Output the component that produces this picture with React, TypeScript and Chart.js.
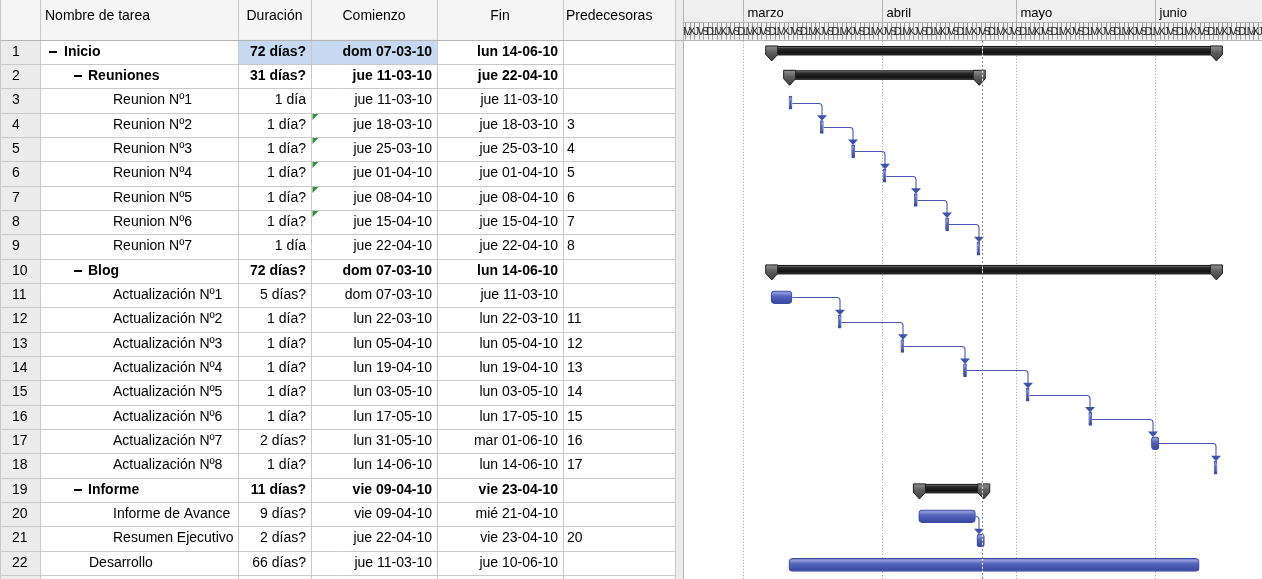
import React, { useEffect, useRef } from "react";
import { Chart, registerables } from "chart.js";

Chart.register(...registerables);

// ---- Project data -------------------------------------------------------
const taskNames = [
  "Inicio",
  "Reuniones",
  "Reunion Nº1",
  "Reunion Nº2",
  "Reunion Nº3",
  "Reunion Nº4",
  "Reunion Nº5",
  "Reunion Nº6",
  "Reunion Nº7",
  "Blog",
  "Actualización Nº1",
  "Actualización Nº2",
  "Actualización Nº3",
  "Actualización Nº4",
  "Actualización Nº5",
  "Actualización Nº6",
  "Actualización Nº7",
  "Actualización Nº8",
  "Informe",
  "Informe de Avance",
  "Resumen Ejecutivo",
  "Desarrollo",
];

const outlineLevels = [0, 1, 2, 2, 2, 2, 2, 2, 2, 1, 2, 2, 2, 2, 2, 2, 2, 2, 1, 2, 2, 1];

const summaryTasks = [
  true, true, false, false, false, false, false, false, false,
  true, false, false, false, false, false, false, false, false,
  true, false, false, false,
];

const durations = [
  "72 días?", "31 días?", "1 día", "1 día?", "1 día?", "1 día?", "1 día?", "1 día?", "1 día",
  "72 días?", "5 días?", "1 día?", "1 día?", "1 día?", "1 día?", "1 día?", "2 días?", "1 día?",
  "11 días?", "9 días?", "2 días?", "66 días?",
];

const startLabels = [
  "dom 07-03-10", "jue 11-03-10", "jue 11-03-10", "jue 18-03-10", "jue 25-03-10", "jue 01-04-10",
  "jue 08-04-10", "jue 15-04-10", "jue 22-04-10", "dom 07-03-10", "dom 07-03-10", "lun 22-03-10",
  "lun 05-04-10", "lun 19-04-10", "lun 03-05-10", "lun 17-05-10", "lun 31-05-10", "lun 14-06-10",
  "vie 09-04-10", "vie 09-04-10", "jue 22-04-10", "jue 11-03-10",
];

const finishLabels = [
  "lun 14-06-10", "jue 22-04-10", "jue 11-03-10", "jue 18-03-10", "jue 25-03-10", "jue 01-04-10",
  "jue 08-04-10", "jue 15-04-10", "jue 22-04-10", "lun 14-06-10", "jue 11-03-10", "lun 22-03-10",
  "lun 05-04-10", "lun 19-04-10", "lun 03-05-10", "lun 17-05-10", "mar 01-06-10", "lun 14-06-10",
  "vie 23-04-10", "mié 21-04-10", "vie 23-04-10", "jue 10-06-10",
];

const predecessorLabels = [
  "", "", "", "3", "4", "5", "6", "7", "8", "", "", "11", "12", "13", "14", "15", "16", "17", "", "", "20", "",
];

// rows whose start cell carries the green schedule indicator
const indicatorRows = [3, 4, 5, 6, 7];
// row whose cells are selected
const selectedRow = 0;

const monthLabels = ["marzo", "abril", "mayo", "junio"];
const monthStarts = ["01-03-10", "01-04-10", "01-05-10", "01-06-10"];
const weekdayLetters = ["D", "L", "M", "X", "J", "V", "S"];
const statusDate = "23-04-10";

const headerLabels = ["Nombre de tarea", "Duración", "Comienzo", "Fin", "Predecesoras"];

// timescale range, in days counted from 1 March 2010
const axisMinDay = -13.5;
const axisMaxDay = 115.9;

// ---- Helpers ------------------------------------------------------------
const FONT = '"Liberation Sans", Arial, sans-serif';
const ORIGIN = Date.UTC(2010, 2, 1);
const WORK_START = 8 / 24;
const WORK_END = 17 / 24;

function dayOf(label: string): number {
  const parts = label.trim().split(" ");
  const [d, m, y] = parts[parts.length - 1].split("-").map(Number);
  return (Date.UTC(2000 + y, m - 1, d) - ORIGIN) / 86400000;
}

const taskStart = startLabels.map((s) => dayOf(s) + WORK_START);
const taskEnd = finishLabels.map((s) => dayOf(s) + WORK_END);
const taskBars = taskNames.map((_, i) => (summaryTasks[i] ? null : [taskStart[i], taskEnd[i]]));

// table geometry
const COLS = [0, 40, 238, 311, 437, 563, 675];
const GANTT_LEFT = 683;
const BAR_DROP = 2; // task bars sit a little below the row's middle
const BAR_THICK = 11.6;
const BAR_INFLATE = 1;

function line(ctx: CanvasRenderingContext2D, x1: number, y1: number, x2: number, y2: number) {
  ctx.beginPath();
  ctx.moveTo(x1, y1);
  ctx.lineTo(x2, y2);
  ctx.stroke();
}

function text(
  ctx: CanvasRenderingContext2D,
  s: string,
  x: number,
  y: number,
  align: CanvasTextAlign,
  bold = false,
  size = 14
) {
  ctx.font = `${bold ? "bold " : ""}${size}px ${FONT}`;
  ctx.textAlign = align;
  ctx.textBaseline = "middle";
  ctx.fillText(s, x, y);
}

// ---- Plugins ------------------------------------------------------------
const tablePlugin = {
  id: "projectTable",
  beforeDraw(chart: any) {
    const { ctx, width: W, height: H } = chart;
    const ys = chart.scales.y;
    const xs = chart.scales.x;
    const rowH = ys.getPixelForValue(1) - ys.getPixelForValue(0);
    const center = (i: number) => ys.getPixelForValue(0) - BAR_DROP + i * rowH;
    const headerBottom = center(0) - rowH / 2;
    const tableRight = COLS[COLS.length - 1];

    ctx.save();
    ctx.fillStyle = "#ffffff";
    ctx.fillRect(0, 0, W, H);

    // header backgrounds
    ctx.fillStyle = "#f5f5f5";
    ctx.fillRect(0, 0, tableRight, headerBottom);
    ctx.fillStyle = "#f0f0f0";
    ctx.fillRect(GANTT_LEFT, 0, W - GANTT_LEFT, headerBottom);

    // row id column
    ctx.fillStyle = "#ececec";
    ctx.fillRect(0, headerBottom, COLS[1], H - headerBottom);

    // selected cells
    ctx.fillStyle = "#c6d9f0";
    const selTop = center(selectedRow) - rowH / 2;
    ctx.fillRect(COLS[2], selTop, COLS[4] - COLS[2], rowH);

    // splitter between table and chart
    ctx.fillStyle = "#ececec";
    ctx.fillRect(tableRight, 0, GANTT_LEFT - tableRight, H);

    // grid lines
    ctx.strokeStyle = "#c9c9c9";
    ctx.lineWidth = 1;
    for (let i = 0; i <= taskNames.length + 1; i++) {
      const yy = Math.round(headerBottom + i * rowH) + 0.5;
      if (yy > H) break;
      line(ctx, 0, yy, tableRight, yy);
    }
    COLS.forEach((cx) => line(ctx, cx + 0.5, 0, cx + 0.5, H));
    ctx.strokeStyle = "#b4b4b4";
    line(ctx, GANTT_LEFT + 0.5, 0, GANTT_LEFT + 0.5, H);

    // header labels
    ctx.fillStyle = "#000";
    const hy = 16;
    text(ctx, headerLabels[0], COLS[1] + 5, hy, "left");
    text(ctx, headerLabels[1], (COLS[2] + COLS[3]) / 2, hy, "center");
    text(ctx, headerLabels[2], (COLS[3] + COLS[4]) / 2, hy, "center");
    text(ctx, headerLabels[3], (COLS[4] + COLS[5]) / 2, hy, "center");
    text(ctx, headerLabels[4], COLS[5] + 3, hy, "left");

    // rows
    taskNames.forEach((name, i) => {
      const cy = center(i);
      const bold = summaryTasks[i];
      const lvl = outlineLevels[i];
      ctx.fillStyle = "#000";
      text(ctx, String(i + 1), 12, cy, "left");
      if (bold) {
        ctx.fillRect(49 + 25 * lvl, Math.round(cy) - 1, 8, 2);
        text(ctx, name, 64 + 24 * lvl, cy, "left", true);
      } else {
        text(ctx, name, 65 + 24 * lvl, cy, "left");
      }
      text(ctx, durations[i], COLS[3] - 5, cy, "right", bold);
      text(ctx, startLabels[i], COLS[4] - 5, cy, "right", bold);
      text(ctx, finishLabels[i], COLS[5] - 5, cy, "right", bold);
      text(ctx, predecessorLabels[i], COLS[5] + 4, cy, "left");
      if (indicatorRows.includes(i)) {
        const top = Math.round(cy - rowH / 2) + 1;
        ctx.fillStyle = "#3b8c3b";
        ctx.beginPath();
        ctx.moveTo(COLS[3] + 1.5, top);
        ctx.lineTo(COLS[3] + 7.5, top);
        ctx.lineTo(COLS[3] + 1.5, top + 6);
        ctx.closePath();
        ctx.fill();
      }
    });

    // timescale: months
    const monthRowBottom = 22;
    ctx.strokeStyle = "#b4b4b4";
    line(ctx, GANTT_LEFT, monthRowBottom + 0.5, W, monthRowBottom + 0.5);
    monthLabels.forEach((m, k) => {
      const mx = Math.round(xs.getPixelForValue(dayOf(monthStarts[k]))) + 0.5;
      ctx.strokeStyle = "#b4b4b4";
      line(ctx, mx, 0, mx, monthRowBottom);
      ctx.fillStyle = "#000";
      text(ctx, m, mx + 4, 13, "left", false, 13);
    });

    // timescale: days
    ctx.save();
    ctx.beginPath();
    ctx.rect(GANTT_LEFT + 1, monthRowBottom + 1, W - GANTT_LEFT - 1, headerBottom - monthRowBottom - 1);
    ctx.clip();
    for (let d = Math.floor(axisMinDay); d <= Math.ceil(axisMaxDay); d++) {
      const x0 = xs.getPixelForValue(d);
      const x1 = xs.getPixelForValue(d + 1);
      ctx.strokeStyle = "#9a9a9a";
      line(ctx, Math.round(x0) + 0.5, monthRowBottom, Math.round(x0) + 0.5, headerBottom);
      const wd = new Date(ORIGIN + d * 86400000).getUTCDay();
      ctx.fillStyle = "#2a2a2a";
      text(ctx, weekdayLetters[wd], (x0 + x1) / 2, (monthRowBottom + headerBottom) / 2 + 1, "center", false, 11);
    }
    ctx.restore();

    ctx.strokeStyle = "#b4b4b4";
    line(ctx, 0, Math.round(headerBottom) + 0.5, W, Math.round(headerBottom) + 0.5);

    // month gridlines in the chart body
    ctx.strokeStyle = "#9c9c9c";
    ctx.setLineDash([1, 2]);
    monthStarts.forEach((ms) => {
      const mx = Math.round(xs.getPixelForValue(dayOf(ms))) + 0.5;
      line(ctx, mx, headerBottom + 1, mx, H);
    });
    ctx.setLineDash([]);
    ctx.restore();
  },
};

const ganttPlugin = {
  id: "ganttMarks",
  afterDatasetsDraw(chart: any) {
    const { ctx } = chart;
    const ys = chart.scales.y;
    const xs = chart.scales.x;

    ctx.save();
    // summary bars
    taskNames.forEach((_, i) => {
      if (!summaryTasks[i]) return;
      const x1 = xs.getPixelForValue(taskStart[i]);
      const x2 = xs.getPixelForValue(taskEnd[i]);
      const cy = ys.getPixelForValue(i) - BAR_DROP;
      const top = cy - 5.5;
      const bottom = cy + 3;
      const g = ctx.createLinearGradient(0, top, 0, bottom);
      g.addColorStop(0, "#8a8a8a");
      g.addColorStop(0.25, "#2a2a2a");
      g.addColorStop(0.75, "#111111");
      g.addColorStop(1, "#3c3c3c");
      ctx.fillStyle = g;
      ctx.fillRect(x1, top, x2 - x1, bottom - top);
      ctx.strokeStyle = "#111";
      ctx.lineWidth = 1;
      ctx.strokeRect(x1, top, x2 - x1, bottom - top);

      [x1, x2].forEach((cx) => {
        const cg = ctx.createLinearGradient(0, top, 0, cy + 9);
        cg.addColorStop(0, "#8c8c8c");
        cg.addColorStop(0.4, "#5e5e5e");
        cg.addColorStop(1, "#3e3e3e");
        ctx.fillStyle = cg;
        ctx.beginPath();
        ctx.moveTo(cx - 6, top - 0.5);
        ctx.lineTo(cx + 6, top - 0.5);
        ctx.lineTo(cx + 6, cy + 2.5);
        ctx.lineTo(cx, cy + 9);
        ctx.lineTo(cx - 6, cy + 2.5);
        ctx.closePath();
        ctx.fill();
        ctx.strokeStyle = "#1e1e1e";
        ctx.stroke();
      });
    });

    // finish-to-start links
    const half = BAR_THICK / 2 + BAR_INFLATE;
    ctx.strokeStyle = "#4858b2";
    ctx.fillStyle = "#4151ae";
    ctx.lineWidth = 1.1;
    predecessorLabels.forEach((p, i) => {
      if (!p) return;
      const j = Number(p) - 1;
      const px = xs.getPixelForValue(taskEnd[j]) + BAR_INFLATE;
      const py = Math.round(ys.getPixelForValue(j)) + 0.5;
      const sx = Math.round(xs.getPixelForValue(taskStart[i])) + 1;
      const tip = ys.getPixelForValue(i) - half;
      const r = Math.min(3, Math.max(0, sx - px));
      ctx.beginPath();
      ctx.moveTo(px, py);
      ctx.lineTo(sx - r, py);
      ctx.quadraticCurveTo(sx, py, sx, py + r);
      ctx.lineTo(sx, tip - 4);
      ctx.stroke();
      ctx.beginPath();
      ctx.moveTo(sx - 5, tip - 5);
      ctx.lineTo(sx + 5, tip - 5);
      ctx.lineTo(sx, tip + 0.5);
      ctx.closePath();
      ctx.fill();
    });
    ctx.restore();
  },
  afterDraw(chart: any) {
    const { ctx, height: H } = chart;
    const ys = chart.scales.y;
    const xs = chart.scales.x;
    const rowH = ys.getPixelForValue(1) - ys.getPixelForValue(0);
    const headerBottom = ys.getPixelForValue(0) - BAR_DROP - rowH / 2;
    const sx = Math.round(xs.getPixelForValue(dayOf(statusDate) + 0.25)) + 0.5;
    ctx.save();
    ctx.lineWidth = 1;
    ctx.setLineDash([2, 2]);
    ctx.strokeStyle = "#6e6e6e";
    line(ctx, sx, headerBottom + 1, sx, H);
    ctx.lineDashOffset = 2;
    ctx.strokeStyle = "#ffffff";
    line(ctx, sx, headerBottom + 1, sx, H);
    ctx.restore();
  },
};

// vertical sheen for task bars, built per row from the category scale
function taskBarFill(c: any) {
  const chartRef = c.chart;
  const ys = chartRef && chartRef.scales ? chartRef.scales.y : null;
  if (!ys || c.dataIndex == null) return "#4d5bb6";
  const cy = ys.getPixelForValue(c.dataIndex);
  if (!Number.isFinite(cy)) return "#4d5bb6";
  const h = BAR_THICK / 2 + BAR_INFLATE;
  const g = chartRef.ctx.createLinearGradient(0, cy - h, 0, cy + h);
  g.addColorStop(0, "#6f7cc8");
  g.addColorStop(0.18, "#8f99d9");
  g.addColorStop(0.4, "#5867bd");
  g.addColorStop(0.75, "#4252aa");
  g.addColorStop(0.88, "#3c4ca4");
  g.addColorStop(1, "#6a77c2");
  return g;
}

export default function App() {
  const canvasRef = useRef<HTMLCanvasElement | null>(null);

  useEffect(() => {
    const canvas = canvasRef.current;
    if (!canvas) return;
    const rowH = 24.33;
    const tableTop = 39.8;
    const padTop = tableTop + BAR_DROP;
    const padBottom = 579 - (padTop + rowH * taskNames.length);

    const chart = new Chart(canvas, {
      type: "bar",
      data: {
        labels: taskNames,
        datasets: [
          {
            data: taskBars as any,
            barThickness: BAR_THICK,
            inflateAmount: BAR_INFLATE,
            borderWidth: 1,
            borderColor: "#3a4aa2",
            borderRadius: 4,
            borderSkipped: false,
            backgroundColor: taskBarFill,
          } as any,
        ],
      },
      options: {
        indexAxis: "y",
        animation: false,
        responsive: false,
        devicePixelRatio: 1,
        events: [],
        layout: { padding: { left: GANTT_LEFT, right: 0, top: padTop, bottom: padBottom } },
        scales: {
          x: { type: "linear", min: axisMinDay, max: axisMaxDay, display: false },
          y: { type: "category", display: false, offset: true },
        },
        plugins: {
          legend: { display: false },
          tooltip: { enabled: false },
        },
      },
      plugins: [tablePlugin, ganttPlugin],
    });
    return () => chart.destroy();
  }, []);

  return (
    <div style={{ position: "absolute", left: 0, top: 0, width: 1262, height: 579 }}>
      <canvas ref={canvasRef} width={1262} height={579} style={{ display: "block" }} />
    </div>
  );
}
